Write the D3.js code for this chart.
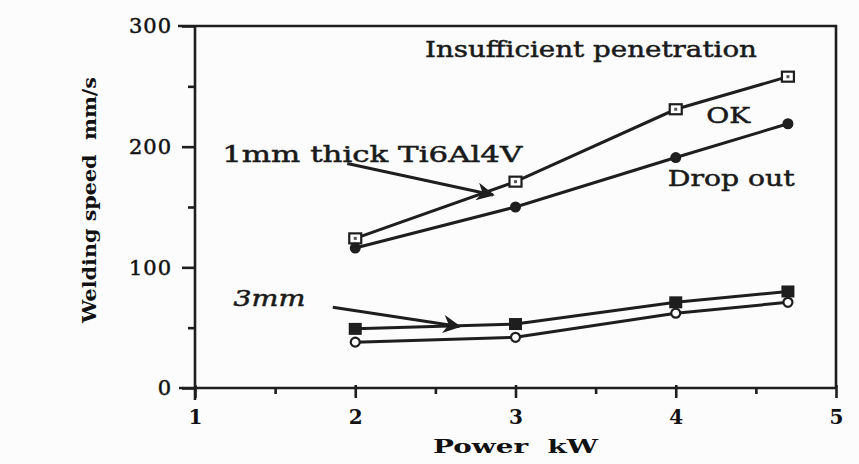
<!DOCTYPE html>
<html>
<head>
<meta charset="utf-8">
<script src="https://cdn.jsdelivr.net/npm/d3@7"></script>
<style>
  body { margin: 0; background: #fcfcfc; }
  svg { display: block; }
</style>
</head>
<body>
<div id="chart"></div>
<script>
// values
var power = [2, 3, 4, 4.7];                 // kW
var ok1mm = [124, 171, 231, 258];           // open squares, 1mm limit (insufficient penetration / OK)
var drop1mm = [116, 150, 191, 219];         // filled circles, 1mm limit (OK / drop out)
var ok3mm = [49, 53, 71, 80];               // filled squares, 3mm
var drop3mm = [38, 42, 62, 71];             // open circles, 3mm
var xTicks = [1, 2, 3, 4, 5];
var yTicks = [0, 100, 200, 300];

var width = 859, height = 464,
    margin = {top: 26, right: 23, bottom: 76, left: 195};

var svg = d3.select("#chart").append("svg")
    .attr("width", width)
    .attr("height", height);

var x = d3.scaleLinear().domain([1, 5]).range([margin.left, width - margin.right]);
var y = d3.scaleLinear().domain([0, 300]).range([height - margin.bottom, margin.top]);

var ink = "#1e1e1e";
var serif = "'DejaVu Serif', 'Liberation Serif', serif";

// frame: top and right borders
svg.append("path")
    .attr("d", "M" + (x(1) - 17) + "," + y(300) + "H" + x(5) + "V" + y(0))
    .attr("fill", "none").attr("stroke", ink).attr("stroke-width", 2.6);

// x axis
var xAxis = svg.append("g")
    .attr("transform", "translate(0," + y(0) + ")")
    .call(d3.axisBottom(x).tickValues(xTicks).tickFormat(d3.format("d")).tickSize(10).tickPadding(12));
xAxis.select(".domain").attr("d", "M" + (x(1) - 16) + ",0H" + x(5)).attr("stroke", ink).attr("stroke-width", 2.6);
xAxis.selectAll(".tick line").attr("stroke", ink).attr("stroke-width", 2.6).attr("y1", -3);
xAxis.selectAll(".tick text").attr("fill", "#111").attr("font-family", serif).attr("font-size", 20).attr("font-weight", "bold");
svg.append("g")
    .attr("transform", "translate(0," + y(0) + ")")
    .call(d3.axisBottom(x).tickValues([1.5, 2.5, 3.5, 4.5]).tickFormat("").tickSize(6))
    .call(function(g) { g.select(".domain").remove(); })
    .selectAll("line").attr("stroke", ink).attr("stroke-width", 2.6);

// y axis
var yAxis = svg.append("g")
    .attr("transform", "translate(" + x(1) + ",0)")
    .call(d3.axisLeft(y).tickValues(yTicks).tickSize(13).tickPadding(10));
yAxis.select(".domain").attr("d", "M0," + (y(0) + 12) + "V" + y(300)).attr("stroke", ink).attr("stroke-width", 2.6);
yAxis.selectAll(".tick line").attr("stroke", ink).attr("stroke-width", 2.6);
yAxis.selectAll(".tick text").attr("fill", "#111").attr("font-family", serif).attr("font-size", 21)
    .attr("letter-spacing", 1).attr("stroke", "#111").attr("stroke-width", 0.5);
svg.append("g")
    .attr("transform", "translate(" + x(1) + ",0)")
    .call(d3.axisLeft(y).tickValues([50, 150, 250]).tickFormat("").tickSize(7))
    .call(function(g) { g.select(".domain").remove(); })
    .selectAll("line").attr("stroke", ink).attr("stroke-width", 2.6);

// axis titles
svg.append("text")
    .attr("x", (x(1) + x(5)) / 2).attr("y", 453)
    .attr("text-anchor", "middle")
    .attr("font-family", serif).attr("font-weight", "bold").attr("font-size", 19)
    .attr("textLength", 165).attr("lengthAdjust", "spacingAndGlyphs")
    .attr("fill", "#111")
    .attr("xml:space", "preserve")
    .text("Power  kW");
svg.append("text")
    .attr("transform", "translate(96,200) rotate(-90)")
    .attr("text-anchor", "middle")
    .attr("font-family", serif).attr("font-weight", "bold").attr("font-size", 19)
    .attr("textLength", 246).attr("lengthAdjust", "spacingAndGlyphs")
    .attr("fill", "#111")
    .attr("xml:space", "preserve")
    .text("Welding speed  mm/s");

// series lines
var line = d3.line()
    .x(function(d) { return x(d[0]); })
    .y(function(d) { return y(d[1]); });

var series = [
  {vals: ok1mm, marker: "openSquare"},
  {vals: drop1mm, marker: "filledCircle"},
  {vals: ok3mm, marker: "filledSquare"},
  {vals: drop3mm, marker: "openCircle"}
];

series.forEach(function(s) {
  var pts = d3.zip(power, s.vals);
  svg.append("path")
      .datum(pts)
      .attr("fill", "none")
      .attr("stroke", ink)
      .attr("stroke-width", 3)
      .attr("d", line);

  var m = svg.append("g").selectAll("g")
      .data(pts).enter().append("g")
      .attr("transform", function(d) { return "translate(" + x(d[0]) + "," + y(d[1]) + ")"; });

  if (s.marker == "openSquare") {
    m.append("rect").attr("x", -6).attr("y", -5).attr("width", 12).attr("height", 10)
        .attr("fill", "#fff").attr("stroke", ink).attr("stroke-width", 2.2);
    m.append("rect").attr("x", -1.5).attr("y", -1.5).attr("width", 3).attr("height", 3).attr("fill", "#555");
  } else if (s.marker == "filledCircle") {
    m.append("circle").attr("r", 5.5).attr("fill", ink);
  } else if (s.marker == "filledSquare") {
    m.append("rect").attr("x", -6.5).attr("y", -6).attr("width", 13).attr("height", 12).attr("fill", ink);
  } else {
    m.append("circle").attr("r", 4.5).attr("fill", "#fff").attr("stroke", ink).attr("stroke-width", 2.2);
  }
});

// annotation labels (px, py in data units; w = printed width)
var labels = [
  {t: "Insufficient penetration", px: 2.435, py: 274, w: 332, style: "normal"},
  {t: "OK", px: 4.19, py: 220, w: 44, style: "normal"},
  {t: "Drop out", px: 3.95, py: 167, w: 127, style: "normal"},
  {t: "1mm thick Ti6Al4V", px: 1.17, py: 187, w: 300, style: "normal"},
  {t: "3mm", px: 1.24, py: 68, w: 72, style: "italic"}
];
svg.selectAll("text.note")
    .data(labels).enter().append("text")
    .attr("class", "note")
    .attr("x", function(d) { return x(d.px); })
    .attr("y", function(d) { return y(d.py); })
    .attr("font-family", serif)
    .attr("font-size", 23)
    .attr("font-style", function(d) { return d.style; })
    .attr("textLength", function(d) { return d.w; })
    .attr("lengthAdjust", "spacingAndGlyphs")
    .attr("fill", "#1a1a1a")
    .attr("stroke", "#1a1a1a")
    .attr("stroke-width", 0.5)
    .text(function(d) { return d.t; });

// arrows pointing at the curves
svg.append("defs").append("marker")
    .attr("id", "head")
    .attr("viewBox", "0 0 10 10")
    .attr("refX", 9).attr("refY", 5)
    .attr("markerWidth", 8).attr("markerHeight", 6)
    .attr("orient", "auto")
    .attr("markerUnits", "strokeWidth")
  .append("path")
    .attr("d", "M0,0L10,5L0,10L3,5Z")
    .attr("fill", ink);

var arrows = [
  {x0: 1.95, y0: 186, x1: 2.86, y1: 160},
  {x0: 1.86, y0: 67, x1: 2.65, y1: 51}
];
svg.selectAll("line.arrow")
    .data(arrows).enter().append("line")
    .attr("class", "arrow")
    .attr("x1", function(d) { return x(d.x0); })
    .attr("y1", function(d) { return y(d.y0); })
    .attr("x2", function(d) { return x(d.x1); })
    .attr("y2", function(d) { return y(d.y1); })
    .attr("stroke", ink)
    .attr("stroke-width", 3)
    .attr("marker-end", "url(#head)");
</script>
</body>
</html>
